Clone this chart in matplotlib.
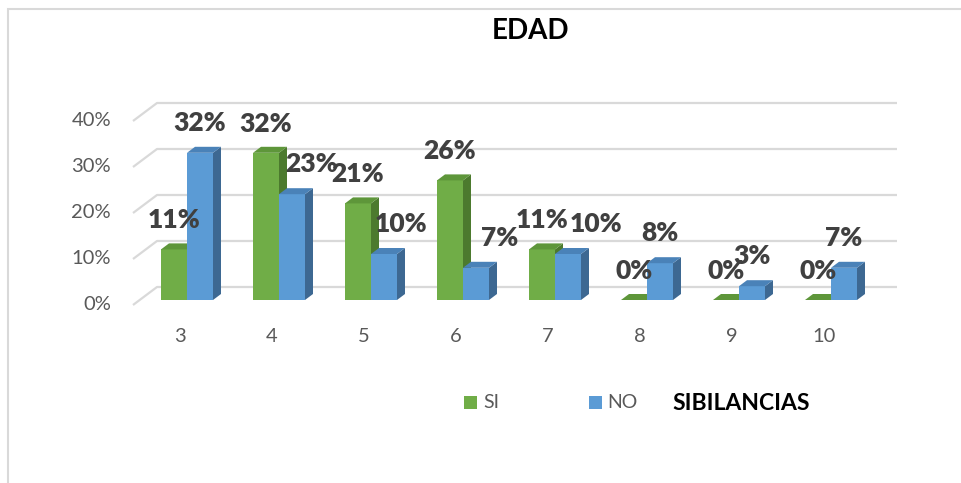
import matplotlib
matplotlib.use("Agg")
import matplotlib.pyplot as plt
from matplotlib.patches import Polygon, Rectangle

# ---------------- data ----------------
categories = ["3", "4", "5", "6", "7", "8", "9", "10"]
si_values = [11, 32, 21, 26, 11, 0, 0, 0]
no_values = [32, 23, 10, 7, 10, 8, 3, 7]
y_ticks = [0, 10, 20, 30, 40]
series_names = ["SI", "NO"]
title = "EDAD"
legend_title = "SIBILANCIAS"

# ---------------- style / layout ----------------
W, H, DPI = 961, 483, 100
FONT = ["Lato", "DejaVu Sans"]
plt.rcParams["font.family"] = FONT

green_front, green_top, green_side = "#70AD47", "#5E963A", "#4C7A2E"
blue_front, blue_top, blue_side = "#5B9BD5", "#4A82B8", "#3D6892"
grid_col = "#D9D9D9"
tick_col = "#595959"
label_col = "#404040"

# pixel mapping: x_px = X0 + XU*i ; y_px(top) = Y0 - YU*v
X0, XU, Y0, YU = 187.0, 92.0, 300.0, 4.6
L, R, T, B = 100, 920, 60, 380

fig = plt.figure(figsize=(W / DPI, H / DPI), dpi=DPI)
ax = fig.add_axes([L / W, (H - B) / H, (R - L) / W, (B - T) / H])
ax.set_xlim((L - X0) / XU, (R - X0) / XU)
ax.set_ylim((Y0 - B) / YU, (Y0 - T) / YU)
ax.axis("off")

px_x = lambda p: p / XU   # pixel lengths -> data units
px_y = lambda p: p / YU

bw = px_x(26)          # bar width
ddx, ddy = px_x(8), px_y(6)  # bar depth offset

# back wall gridlines
wall_dy = px_y(13)
wall_x0 = px_x(157 - X0)
wall_x1 = px_x(897 - X0)
diag_x0 = px_x(133 - X0)
diag_dy = px_y(-5)
for v in y_ticks:
    ax.plot([diag_x0, wall_x0, wall_x1], [v + diag_dy, v + wall_dy, v + wall_dy],
            color=grid_col, lw=1.6, solid_capstyle="butt", zorder=1)
    ax.text(px_x(111 - X0), v + diag_dy + px_y(1), f"{v}%", ha="right", va="center",
            fontsize=14.5, color=tick_col)


def draw_bar(x0, v, cf, ct, cs):
    ax.bar(x0, v, width=bw, align="edge", color=cf, edgecolor="none", zorder=3)
    side = Polygon([(x0 + bw, 0), (x0 + bw + ddx, ddy), (x0 + bw + ddx, v + ddy), (x0 + bw, v)],
                   closed=True, facecolor=cs, edgecolor="none", zorder=3)
    top = Polygon([(x0, v), (x0 + bw, v), (x0 + bw + ddx, v + ddy), (x0 + ddx, v + ddy)],
                  closed=True, facecolor=ct, edgecolor="none", zorder=3)
    ax.add_patch(side)
    ax.add_patch(top)


no_label_dx = [0, 20, 17, 24, 28, 0, 0, 0]
for i, (s, n) in enumerate(zip(si_values, no_values)):
    draw_bar(i - bw, s, green_front, green_top, green_side)
    draw_bar(i, n, blue_front, blue_top, blue_side)
for i, (s, n) in enumerate(zip(si_values, no_values)):
    ax.annotate(f"{s}%", xy=(i - bw / 2, s), xytext=(0, 29), textcoords="offset pixels",
                ha="center", va="center", fontsize=19, fontweight="heavy",
                color=label_col, zorder=5)
    ax.annotate(f"{n}%", xy=(i + bw / 2, n), xytext=(no_label_dx[i], 30),
                textcoords="offset pixels", ha="center", va="center", fontsize=19,
                fontweight="heavy", color=label_col, zorder=5)
    ax.text(i - px_x(7), px_y(300 - 336), categories[i], ha="center", va="center",
            fontsize=14.5, color=tick_col)

# title
fig.text(531 / W, 1 - 31 / H, title, ha="center", va="center", fontsize=20,
         fontweight="bold", color="black")

# legend
def fx(p): return p / W
def fy(p): return 1 - p / H

fig.add_artist(Rectangle((fx(464), fy(409)), 13 / W, 13 / H, transform=fig.transFigure,
                         facecolor=green_front, edgecolor="none"))
fig.text(fx(483), fy(403), series_names[0], ha="left", va="center", fontsize=14, color=tick_col)
fig.add_artist(Rectangle((fx(589), fy(409)), 13 / W, 13 / H, transform=fig.transFigure,
                         facecolor=blue_front, edgecolor="none"))
fig.text(fx(607), fy(403), series_names[1], ha="left", va="center", fontsize=14, color=tick_col)
fig.text(fx(672), fy(403), legend_title, ha="left", va="center", fontsize=16.5,
         fontweight="bold", color="black")

# outer chart border (top & left visible)
fig.add_artist(Rectangle((fx(8), -0.1), 1.2, fy(9) + 0.1, transform=fig.transFigure,
                         facecolor="none", edgecolor=grid_col, lw=1.5))

fig.savefig("out.png", dpi=DPI)
